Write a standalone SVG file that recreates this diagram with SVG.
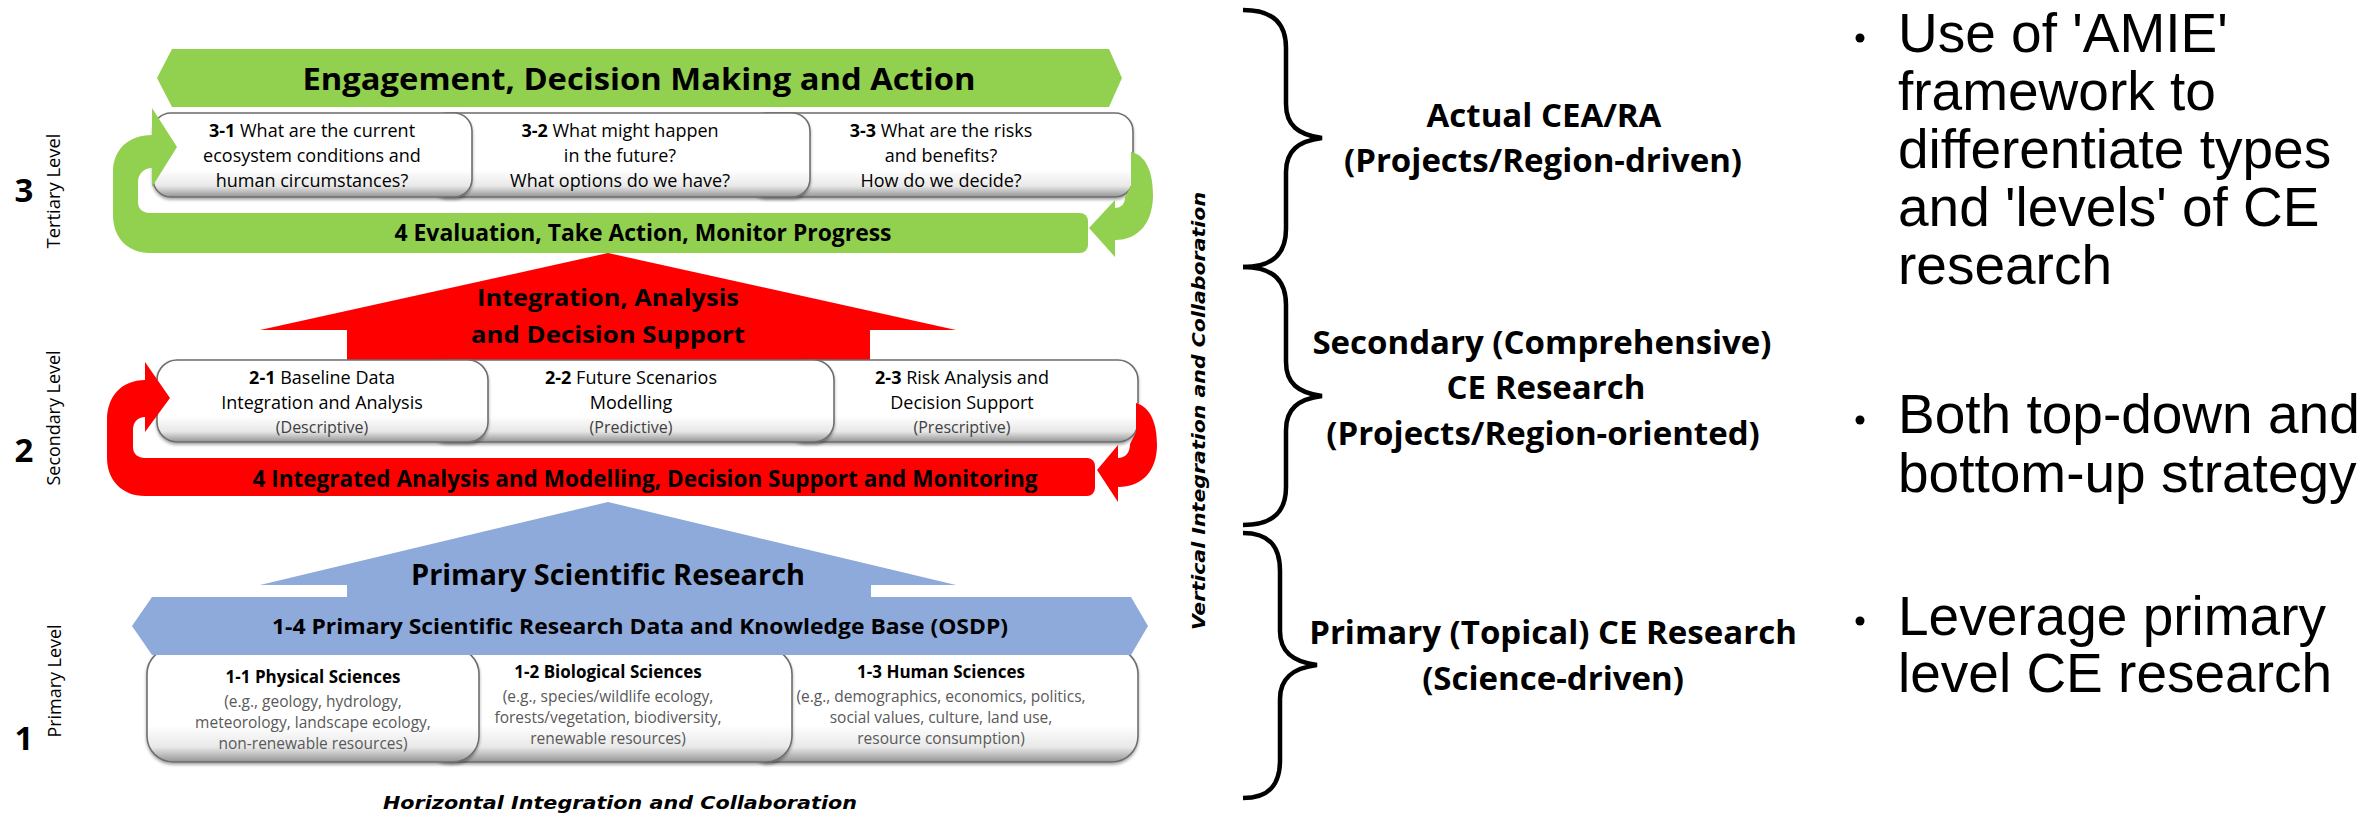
<svg xmlns="http://www.w3.org/2000/svg" width="2366" height="813" viewBox="0 0 2366 813">
  <defs>
    <linearGradient id="boxShade" x1="0" y1="0" x2="0" y2="1">
      <stop offset="0" stop-color="#ffffff"/>
      <stop offset="0.68" stop-color="#ffffff"/>
      <stop offset="0.87" stop-color="#e8e8e8"/>
      <stop offset="1" stop-color="#949494"/>
    </linearGradient>
    <filter id="boxShadow" x="-5%" y="-10%" width="110%" height="125%">
      <feDropShadow dx="0" dy="2" stdDeviation="1.5" flood-color="#000" flood-opacity="0.35"/>
    </filter>
  </defs>
  <style>
    .box { fill: url(#boxShade); stroke: #6e6e6e; stroke-width: 1.6; filter: url(#boxShadow); }
    .green { fill: #92D050; }
    .red { fill: #FF0000; }
    .blue { fill: #8EAADB; }
    .cal { font-family: "Open Sans", "Liberation Sans", sans-serif; fill: #000; }
    .b { font-weight: bold; }
    .mid { text-anchor: middle; }
    .boxtxt { font-size: 18px; }
    .paren { font-size: 16px; fill: #404040; }
    .title1 { font-size: 17px; font-weight: bold; }
    .sub { font-size: 15.5px; fill: #595959; }
    .verd { font-family: "DejaVu Sans", "Liberation Sans", sans-serif; font-weight: bold; font-style: italic; font-size: 18px; fill: #000; }
    .num { font-size: 33px; font-weight: bold; }
    .lvl { font-size: 18px; }
    .brace { fill: none; stroke: #000; stroke-width: 4.5; }
    .side { font-size: 33px; font-weight: bold; }
    .bullet { font-family: "Liberation Sans", Arial, sans-serif; font-size: 55px; fill: #000; }
  </style>

  <!-- Tertiary level: engagement banner -->
  <g id="banner-3">
    <polygon class="green" points="172,49 1109,49 1122,78 1109,107 172,107 157,78"/>
    <text class="cal b mid" x="639" y="90" font-size="31" textLength="673" lengthAdjust="spacingAndGlyphs">Engagement, Decision Making and Action</text>
  </g>

  <!-- Tertiary level questions (drawn right to left so each box overlaps the next) -->
  <g id="box-3-3">
    <rect class="box" x="749" y="113" width="384" height="84" rx="18"/>
    <text class="cal boxtxt mid" x="941" y="137"><tspan class="b">3-3</tspan> What are the risks</text>
    <text class="cal boxtxt mid" x="941" y="162">and benefits?</text>
    <text class="cal boxtxt mid" x="941" y="187">How do we decide?</text>
  </g>
  <g id="box-3-2">
    <rect class="box" x="430" y="113" width="380" height="84" rx="18"/>
    <text class="cal boxtxt mid" x="620" y="137"><tspan class="b">3-2</tspan> What might happen</text>
    <text class="cal boxtxt mid" x="620" y="162">in the future?</text>
    <text class="cal boxtxt mid" x="620" y="187">What options do we have?</text>
  </g>
  <g id="box-3-1">
    <rect class="box" x="153" y="113" width="319" height="84" rx="18"/>
    <text class="cal boxtxt mid" x="312" y="137"><tspan class="b">3-1</tspan> What are the current</text>
    <text class="cal boxtxt mid" x="312" y="162">ecosystem conditions and</text>
    <text class="cal boxtxt mid" x="312" y="187">human circumstances?</text>
  </g>
  <g id="bar-3">
    <rect class="green" x="150" y="213" width="938" height="40" rx="8"/>
    <text class="cal b mid" x="643" y="241" font-size="22.5" textLength="497" lengthAdjust="spacingAndGlyphs">4 Evaluation, Take Action, Monitor Progress</text>
  </g>

  <!-- Secondary level -->
  <g id="arrow-2">
    <polygon class="red" points="608,253 956,330 870,330 870,362 347,362 347,330 260,330"/>
    <text class="cal b mid" x="608" y="306" font-size="24" textLength="262" lengthAdjust="spacingAndGlyphs">Integration, Analysis</text>
    <text class="cal b mid" x="608" y="343" font-size="24" textLength="274" lengthAdjust="spacingAndGlyphs">and Decision Support</text>
  </g>
  <g id="box-2-3">
    <rect class="box" x="786" y="360" width="352" height="82" rx="20"/>
    <text class="cal boxtxt mid" x="962" y="384"><tspan class="b">2-3</tspan> Risk Analysis and</text>
    <text class="cal boxtxt mid" x="962" y="409">Decision Support</text>
    <text class="cal paren mid" x="962" y="433">(Prescriptive)</text>
  </g>
  <g id="box-2-2">
    <rect class="box" x="428" y="360" width="406" height="82" rx="20"/>
    <text class="cal boxtxt mid" x="631" y="384"><tspan class="b">2-2</tspan> Future Scenarios</text>
    <text class="cal boxtxt mid" x="631" y="409">Modelling</text>
    <text class="cal paren mid" x="631" y="433">(Predictive)</text>
  </g>
  <g id="box-2-1">
    <rect class="box" x="157" y="360" width="331" height="82" rx="20"/>
    <text class="cal boxtxt mid" x="322" y="384"><tspan class="b">2-1</tspan> Baseline Data</text>
    <text class="cal boxtxt mid" x="322" y="409">Integration and Analysis</text>
    <text class="cal paren mid" x="322" y="433">(Descriptive)</text>
  </g>
  <g id="bar-2">
    <rect class="red" x="145" y="458" width="950" height="38" rx="8"/>
    <text class="cal b mid" x="645" y="487" font-size="23" textLength="785" lengthAdjust="spacingAndGlyphs">4 Integrated Analysis and Modelling, Decision Support and Monitoring</text>
  </g>

  <!-- Primary level -->
  <g id="arrow-1">
    <polygon class="blue" points="608,502 956,585 871,585 871,600 347,600 347,585 260,585"/>
    <text class="cal b mid" x="608" y="585" font-size="28" textLength="394" lengthAdjust="spacingAndGlyphs">Primary Scientific Research</text>
  </g>
  <g id="box-1-3">
    <rect class="box" x="744" y="648" width="394" height="114" rx="26"/>
    <text class="cal title1 mid" x="941" y="678">1-3 Human Sciences</text>
    <text class="cal sub mid" x="941" y="702">(e.g., demographics, economics, politics,</text>
    <text class="cal sub mid" x="941" y="723">social values, culture, land use,</text>
    <text class="cal sub mid" x="941" y="744">resource consumption)</text>
  </g>
  <g id="box-1-2">
    <rect class="box" x="424" y="648" width="368" height="114" rx="26"/>
    <text class="cal title1 mid" x="608" y="678">1-2 Biological Sciences</text>
    <text class="cal sub mid" x="608" y="702">(e.g., species/wildlife ecology,</text>
    <text class="cal sub mid" x="608" y="723">forests/vegetation, biodiversity,</text>
    <text class="cal sub mid" x="608" y="744">renewable resources)</text>
  </g>
  <g id="box-1-1">
    <rect class="box" x="147" y="648" width="332" height="114" rx="26"/>
    <text class="cal title1 mid" x="313" y="683">1-1 Physical Sciences</text>
    <text class="cal sub mid" x="313" y="707">(e.g., geology, hydrology,</text>
    <text class="cal sub mid" x="313" y="728">meteorology, landscape ecology,</text>
    <text class="cal sub mid" x="313" y="749">non-renewable resources)</text>
  </g>
  <g id="band-1">
    <polygon class="blue" points="152,597 1131,597 1148,626 1131,655 152,655 132,626"/>
    <text class="cal b mid" x="640" y="634" font-size="22" textLength="736" lengthAdjust="spacingAndGlyphs">1-4 Primary Scientific Research Data and Knowledge Base (OSDP)</text>
  </g>

  <!-- Feedback loops around each level -->
  <g id="connectors">
    <path class="green" d="M168,213 L150,213 C143,213 138,209 138,202 L138,182 C138,174 144,168 152,168 L152,187 L177,147 L152,108 L152,135 C128,135 113,150 113,172 L113,215 C113,238 128,253 150,253 L168,253 Z"/>
    <path class="green" d="M1131,152 C1146,155 1153,172 1153,195 C1153,221 1140,240 1115,240 L1115,257 L1089,228 L1115,200 L1115,208 C1121,208 1125,204 1125,197 L1131,186 Z"/>
    <path class="red" d="M163,458 L145,458 C138,458 133,454 133,447 L133,430 C133,422 138,417 145,417 L145,432 L170,398 L145,362 L145,380 C122,380 107,396 107,420 L107,458 C107,480 122,496 145,496 L163,496 Z"/>
    <path class="red" d="M1136,403 C1150,407 1157,422 1157,445 C1157,470 1143,487 1118,487 L1118,502 L1097,470 L1118,445 L1118,458 C1125,458 1130,453 1130,444 L1136,432 Z"/>
  </g>

  <!-- Level labels -->
  <g id="level-labels">
    <text class="cal num mid" x="24" y="202">3</text>
    <text class="cal lvl mid" transform="translate(60,191) rotate(-90)" textLength="115" lengthAdjust="spacingAndGlyphs">Tertiary Level</text>
    <text class="cal num mid" x="24" y="462">2</text>
    <text class="cal lvl mid" transform="translate(60,418) rotate(-90)" textLength="135" lengthAdjust="spacingAndGlyphs">Secondary Level</text>
    <text class="cal num mid" x="24" y="750">1</text>
    <text class="cal lvl mid" transform="translate(61,681) rotate(-90)" textLength="113" lengthAdjust="spacingAndGlyphs">Primary Level</text>
  </g>

  <!-- Integration axes -->
  <g id="axes">
    <text class="verd mid" x="620" y="809" textLength="474" lengthAdjust="spacingAndGlyphs">Horizontal Integration and Collaboration</text>
    <text class="verd mid" transform="translate(1205,411) rotate(-90)" textLength="438" lengthAdjust="spacingAndGlyphs">Vertical Integration and Collaboration</text>
  </g>

  <!-- Research type braces -->
  <g id="braces">
    <path class="brace" d="M1243,10 C1274,10 1286,24 1286,48 L1286,104 C1286,125 1298,135 1322,138 C1298,141 1286,151 1286,172 L1286,229 C1286,253 1274,267 1243,267"/>
    <path class="brace" d="M1243,267 C1274,267 1286,281 1286,305 L1286,362 C1286,383 1298,393 1322,396 C1298,399 1286,409 1286,430 L1286,487 C1286,511 1274,525 1243,525"/>
    <path class="brace" d="M1243,533 C1270,533 1280,547 1280,571 L1280,631 C1280,652 1293,662 1317,665 C1293,668 1280,678 1280,699 L1280,760 C1280,784 1270,798 1243,798"/>
  </g>

  <g id="type-actual">
    <text class="cal side mid" x="1544" y="127">Actual CEA/RA</text>
    <text class="cal side mid" x="1543" y="172">(Projects/Region-driven)</text>
  </g>
  <g id="type-secondary">
    <text class="cal side mid" x="1542" y="354">Secondary (Comprehensive)</text>
    <text class="cal side mid" x="1546" y="399">CE Research</text>
    <text class="cal side mid" x="1543" y="445">(Projects/Region-oriented)</text>
  </g>
  <g id="type-primary">
    <text class="cal side mid" x="1553" y="644">Primary (Topical) CE Research</text>
    <text class="cal side mid" x="1553" y="690">(Science-driven)</text>
  </g>

  <!-- Key points -->
  <g id="point-amie">
    <circle cx="1860" cy="38" r="4.5"/>
    <text class="bullet" x="1898" y="52">Use of 'AMIE'</text>
    <text class="bullet" x="1898" y="110">framework to</text>
    <text class="bullet" x="1898" y="168">differentiate types</text>
    <text class="bullet" x="1898" y="226">and 'levels' of CE</text>
    <text class="bullet" x="1898" y="284">research</text>
  </g>
  <g id="point-strategy">
    <circle cx="1860" cy="420" r="4.5"/>
    <text class="bullet" x="1898" y="433">Both top-down and</text>
    <text class="bullet" x="1898" y="492">bottom-up strategy</text>
  </g>
  <g id="point-leverage">
    <circle cx="1860" cy="621" r="4.5"/>
    <text class="bullet" x="1898" y="635">Leverage primary</text>
    <text class="bullet" x="1898" y="692">level CE research</text>
  </g>
</svg>
